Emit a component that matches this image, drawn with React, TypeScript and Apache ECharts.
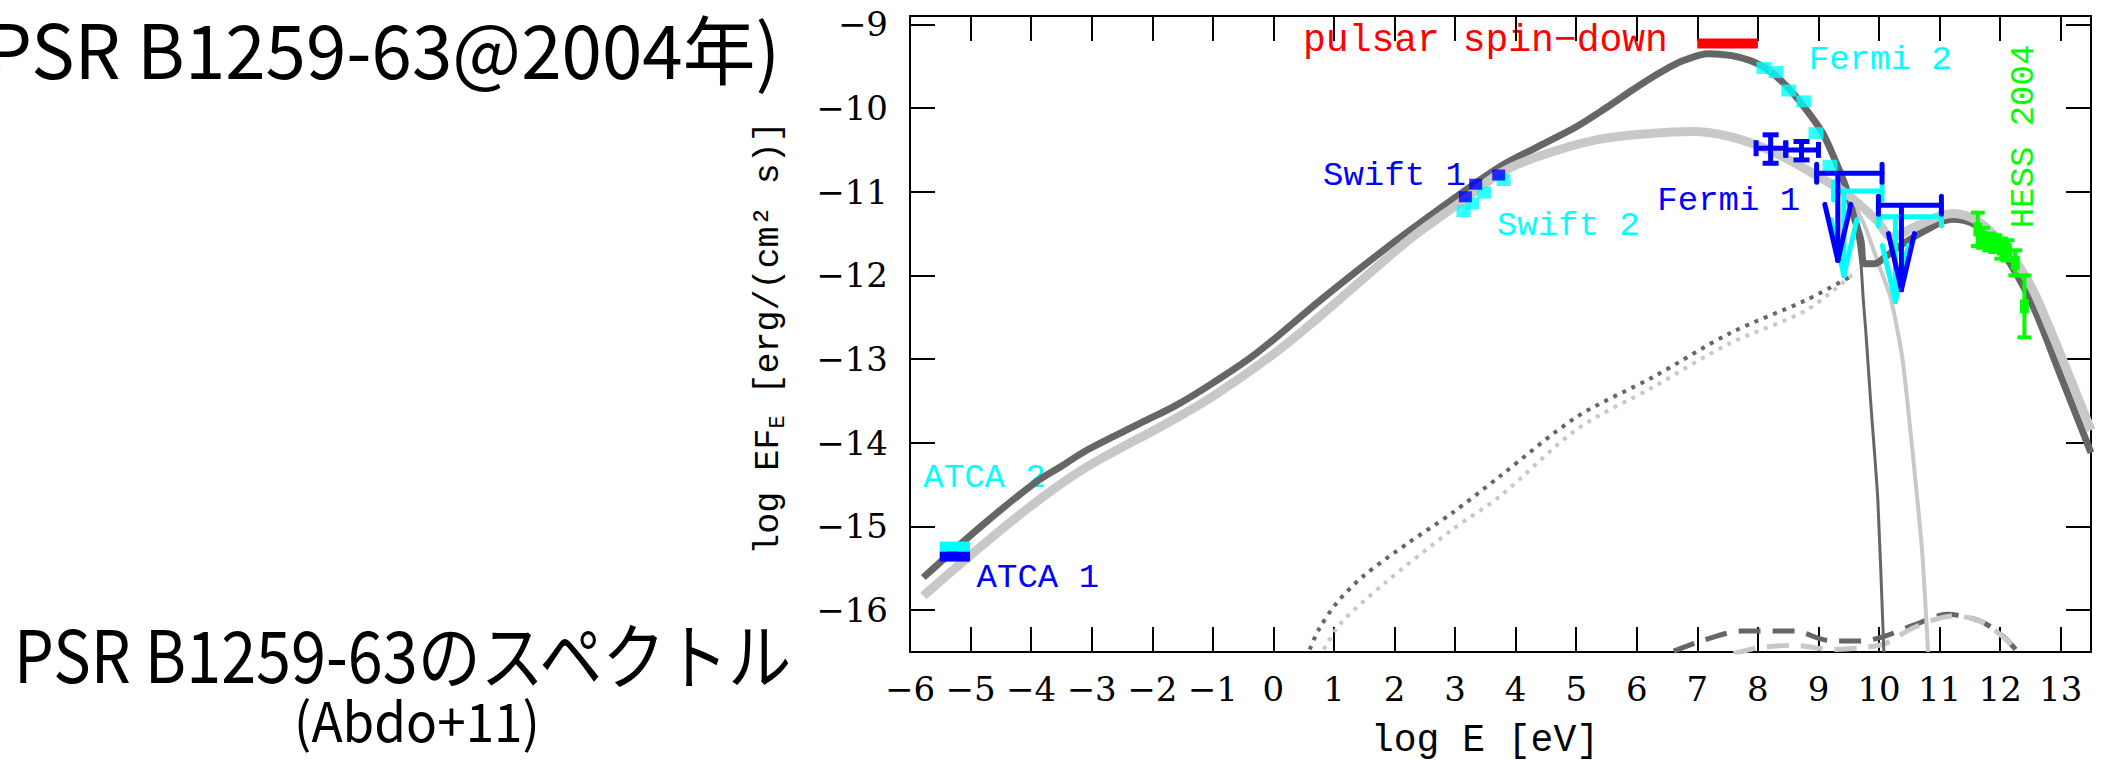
import React, { useEffect, useRef } from "react";
import * as echarts from "echarts";

const W = 2101;
const H = 761;

// ---- axes ----
const xTickValues = [-6, -5, -4, -3, -2, -1, 0, 1, 2, 3, 4, 5, 6, 7, 8, 9, 10, 11, 12, 13];
const yTickValues = [-16, -15, -14, -13, -12, -11, -10, -9];
const xRange = [-6, 13.5];
const yRange = [-16.5, -8.9];

// ---- model curves (log E, log EF_E) ----
const darkTotalX = [-5.78, -4.83, -3.94, -3.5, -3.06, -2.18, -1.6, -1.01, -0.28, 0.82, 1.85, 2.37, 3.1, 3.74, 4.37, 5.01, 5.51, 5.96, 6.4, 6.78, 7.19, 7.54, 7.86, 8.18, 8.49, 8.81, 9.07, 9.25, 9.45, 9.57, 9.7, 9.76, 9.92, 10.1, 10.4, 10.8, 11.2, 11.6, 12.0, 12.5, 13.0, 13.5];
const darkTotalY = [-15.61, -15.0, -14.48, -14.28, -14.08, -13.76, -13.55, -13.29, -12.93, -12.27, -11.68, -11.4, -11.02, -10.7, -10.46, -10.22, -9.99, -9.77, -9.57, -9.43, -9.35, -9.37, -9.43, -9.55, -9.75, -10.03, -10.3, -10.58, -10.94, -11.26, -11.58, -11.86, -11.86, -11.78, -11.62, -11.45, -11.33, -11.4, -11.68, -12.3, -13.2, -14.12];

const lightTotalX = [-5.78, -4.83, -3.94, -3.06, -1.74, -1.01, 0.02, 0.75, 1.93, 2.37, 3.1, 3.74, 4.37, 5.33, 6.28, 6.91, 7.54, 8.18, 8.81, 9.45, 9.96, 10.21, 10.59, 11.22, 11.6, 11.98, 12.45, 12.8, 13.5];
const lightTotalY = [-15.83, -15.24, -14.72, -14.28, -13.76, -13.45, -12.93, -12.5, -11.76, -11.5, -11.12, -10.78, -10.58, -10.38, -10.3, -10.28, -10.34, -10.5, -10.74, -11.02, -11.34, -11.54, -11.42, -11.26, -11.34, -11.58, -12.05, -12.6, -13.85];

const darkSyncX = [9.45, 9.62, 9.7, 9.74, 9.78, 9.86, 9.98, 10.08];
const darkSyncY = [-10.94, -11.45, -11.85, -12.29, -12.65, -13.49, -14.68, -16.5];

const lightSyncX = [9.3, 9.55, 9.76, 10.01, 10.2, 10.39, 10.55, 10.71, 10.81];
const lightSyncY = [-10.94, -11.12, -11.4, -11.9, -12.29, -13.01, -14.08, -15.28, -16.5];

const darkIcX = [0.6, 0.75, 1.05, 1.49, 2.22, 2.95, 3.74, 5.01, 6.28, 7.54, 8.81, 9.51];
const darkIcY = [-16.47, -16.23, -15.91, -15.59, -15.2, -14.84, -14.4, -13.69, -13.21, -12.69, -12.29, -12.02];

const lightIcX = [0.83, 1.12, 1.85, 2.95, 3.74, 5.01, 6.28, 7.54, 8.81, 9.64];
const lightIcY = [-16.47, -16.15, -15.67, -15.04, -14.64, -13.84, -13.33, -12.81, -12.41, -11.94];

const darkDashX = [6.61, 7.1, 7.73, 8.6, 9.14, 9.69, 10.1, 10.57, 11.12, 11.67, 12.06, 12.28];
const darkDashY = [-16.49, -16.36, -16.25, -16.25, -16.36, -16.37, -16.31, -16.18, -16.05, -16.13, -16.32, -16.49];

const lightDashX = [7.6, 8.0, 8.6, 9.2, 9.7, 10.1, 10.57, 11.22, 11.67, 12.1, 12.3];
const lightDashY = [-16.52, -16.45, -16.42, -16.47, -16.45, -16.4, -16.21, -16.07, -16.13, -16.35, -16.52];

// ---- observations ----
const spinDownX = [7.0, 8.0];
const spinDownY = [-9.23, -9.23];

const atcaX = [-5.51, -5.01];
const atca1Y = [-15.36, -15.36];
const atca2Y = [-15.24, -15.24];

const swift1X = [3.17, 3.34, 3.72];
const swift1Y = [-11.06, -10.91, -10.8];
const swift2X = [3.14, 3.28, 3.48, 3.8];
const swift2Y = [-11.23, -11.14, -11.01, -10.86];

const fermi2X = [8.1, 8.3, 8.51, 8.76, 8.96, 9.19];
const fermi2Y = [-9.52, -9.57, -9.79, -9.92, -10.3, -10.69];

const fermi1X = [8.21, 8.72];
const fermi1Y = [-10.48, -10.5];
const fermi1XLo = [7.97, 8.46];
const fermi1XHi = [8.46, 9.0];
const fermi1YLo = [-10.66, -10.62];
const fermi1YHi = [-10.32, -10.4];

const fermi1UlX = [9.32, 10.37];
const fermi1UlY = [-10.78, -11.16];
const fermi1UlXLo = [8.97, 9.99];
const fermi1UlXHi = [10.05, 11.03];
const fermi1UlTip = [-11.82, -12.17];

const fermi2UlX = [9.42, 10.27];
const fermi2UlY = [-10.99, -11.3];
const fermi2UlXLo = [9.25, 9.99];
const fermi2UlXHi = [10.05, 11.03];
const fermi2UlTip = [-12.0, -12.31];

const hessX = [11.63, 11.72, 11.82, 11.92, 12.02, 12.12, 12.25, 12.4];
const hessY = [-11.45, -11.55, -11.6, -11.62, -11.68, -11.7, -11.85, -12.37];
const hessYErr = [0.2, 0.12, 0.1, 0.1, 0.12, 0.12, 0.15, 0.37];
const hessXErr = [0.04, 0.04, 0.04, 0.04, 0.04, 0.04, 0.04, 0.04];

// ---- styles ----
const DARK = "#666666";
const LIGHT = "#c8c8c8";
const BLUE = "#0000ff";
const CYAN = "#00ffff";
const RED = "#ff0000";
const GREEN = "#00ff00";
const MONO = "'Liberation Mono', monospace";
const SERIF = "'DejaVu Serif', serif";
const JP = "'Noto Sans CJK JP', sans-serif";

const pts = (xs: number[], ys: number[]) => xs.map((x, i) => [x, ys[i]]);

const curve = (name: string, xs: number[], ys: number[], color: string, width: number, type: any, smooth: number, z: number) => ({
  type: "line",
  name,
  data: pts(xs, ys),
  symbol: "none",
  showSymbol: false,
  smooth,
  clip: true,
  silent: true,
  z,
  lineStyle: { color, width, type, cap: "butt", join: "round" },
});

const squares = (name: string, xs: number[], ys: number[], color: string, size: number[], z: number) => ({
  type: "scatter",
  name,
  data: pts(xs, ys),
  symbol: "rect",
  symbolSize: size,
  itemStyle: { color },
  silent: true,
  z,
});

const errorBars = (name: string, color: string, rows: number[][], lw: number, cap: number, z: number) => ({
  type: "custom",
  name,
  data: rows,
  z,
  silent: true,
  encode: { x: 0, y: 1 },
  renderItem: (_p: any, api: any) => {
    const x = api.value(0);
    const y = api.value(1);
    const c = api.coord([x, y]);
    const l = api.coord([api.value(2), y]);
    const r = api.coord([api.value(3), y]);
    const b = api.coord([x, api.value(4)]);
    const t = api.coord([x, api.value(5)]);
    const st = { stroke: color, lineWidth: lw };
    const ln = (x1: number, y1: number, x2: number, y2: number) => ({ type: "line", shape: { x1, y1, x2, y2 }, style: st });
    return {
      type: "group",
      children: [
        ln(l[0], c[1], r[0], c[1]),
        ln(c[0], b[1], c[0], t[1]),
        ln(l[0], c[1] - cap, l[0], c[1] + cap),
        ln(r[0], c[1] - cap, r[0], c[1] + cap),
        ln(c[0] - cap, b[1], c[0] + cap, b[1]),
        ln(c[0] - cap, t[1], c[0] + cap, t[1]),
      ],
    };
  },
});

const upperLimits = (name: string, color: string, rows: number[][], lw: number, z: number) => ({
  type: "custom",
  name,
  data: rows,
  z,
  silent: true,
  encode: { x: 0, y: 1 },
  renderItem: (_p: any, api: any) => {
    const x = api.value(0);
    const y = api.value(1);
    const c = api.coord([x, y]);
    const l = api.coord([api.value(2), y]);
    const r = api.coord([api.value(3), y]);
    const tip = api.coord([x, api.value(4)]);
    const st = { stroke: color, lineWidth: lw, lineCap: "round" };
    const ln = (x1: number, y1: number, x2: number, y2: number) => ({ type: "line", shape: { x1, y1, x2, y2 }, style: st });
    const cap = 9;
    return {
      type: "group",
      children: [
        ln(l[0], c[1], r[0], c[1]),
        ln(l[0], c[1] - cap, l[0], c[1] + cap),
        ln(r[0], c[1] - cap, r[0], c[1] + cap),
        ln(c[0], c[1], tip[0], tip[1]),
        ln(tip[0] - 13, tip[1] - 56, tip[0], tip[1]),
        ln(tip[0] + 13, tip[1] - 56, tip[0], tip[1]),
      ],
    };
  },
});

const fmt = (v: number) => (Number.isInteger(v) ? String(v).replace("-", "\u2212") : "");

const axisLine = { show: true, onZero: false, lineStyle: { color: "#000", width: 2 } };
const tickStyle = { color: "#000", width: 2 };

function buildOption() {
  const labelStyle = { color: "#000", fontFamily: SERIF, fontSize: 34 };
  return {
    animation: false,
    backgroundColor: "#ffffff",
    grid: { left: 910, top: 16, width: 1181, height: 636, containLabel: false },
    xAxis: [
      {
        type: "value", position: "bottom", min: xRange[0], max: xRange[1],
        axisLine, splitLine: { show: false },
        axisTick: { show: true, inside: true, length: 25, lineStyle: tickStyle, customValues: xTickValues },
        axisLabel: { show: true, customValues: xTickValues, formatter: fmt, margin: 20, ...labelStyle },
      },
      {
        type: "value", position: "top", min: xRange[0], max: xRange[1],
        axisLine, splitLine: { show: false },
        axisTick: { show: true, inside: true, length: 25, lineStyle: tickStyle, customValues: xTickValues },
        axisLabel: { show: false },
      },
    ],
    yAxis: [
      {
        type: "value", position: "left", min: yRange[0], max: yRange[1],
        axisLine, splitLine: { show: false },
        axisTick: { show: true, inside: true, length: 25, lineStyle: tickStyle, customValues: yTickValues },
        axisLabel: { show: true, customValues: yTickValues, formatter: fmt, margin: 22, ...labelStyle },
      },
      {
        type: "value", position: "right", min: yRange[0], max: yRange[1],
        axisLine, splitLine: { show: false },
        axisTick: { show: true, inside: true, length: 25, lineStyle: tickStyle, customValues: yTickValues },
        axisLabel: { show: false },
      },
    ],
    series: [
      curve("dark dashed", darkDashX, darkDashY, DARK, 5, [22, 12], 0.3, 1),
      curve("light dashed", lightDashX, lightDashY, LIGHT, 5, [22, 12], 0.3, 1),
      curve("dark IC", darkIcX, darkIcY, DARK, 4, [4, 6], 0.3, 1),
      curve("light IC", lightIcX, lightIcY, LIGHT, 4, [4, 6], 0.3, 1),
      curve("dark sync", darkSyncX, darkSyncY, DARK, 3, "solid", 0.2, 2),
      curve("light sync", lightSyncX, lightSyncY, LIGHT, 4, "solid", 0.2, 2),
      curve("dark total", darkTotalX, darkTotalY, DARK, 7, "solid", 0.35, 3),
      curve("light total", lightTotalX, lightTotalY, LIGHT, 9, "solid", 0.35, 4),
      curve("pulsar spin-down", spinDownX, spinDownY, RED, 10, "solid", 0, 6),
      curve("ATCA 2", atcaX, atca2Y, CYAN, 10, "solid", 0, 6),
      curve("ATCA 1", atcaX, atca1Y, BLUE, 10, "solid", 0, 7),
      squares("Swift 2", swift2X, swift2Y, CYAN, [14, 12], 6),
      squares("Swift 1", swift1X, swift1Y, BLUE, [13, 11], 7),
      squares("Fermi 2", fermi2X, fermi2Y, CYAN, [15, 12], 6),
      upperLimits("Fermi 2 UL", CYAN, fermi2UlX.map((x, i) => [x, fermi2UlY[i], fermi2UlXLo[i], fermi2UlXHi[i], fermi2UlTip[i]]), 5, 6),
      upperLimits("Fermi 1 UL", BLUE, fermi1UlX.map((x, i) => [x, fermi1UlY[i], fermi1UlXLo[i], fermi1UlXHi[i], fermi1UlTip[i]]), 5, 7),
      errorBars("Fermi 1", BLUE, fermi1X.map((x, i) => [x, fermi1Y[i], fermi1XLo[i], fermi1XHi[i], fermi1YLo[i], fermi1YHi[i]]), 5, 8, 7),
      errorBars("HESS 2004", GREEN, hessX.map((x, i) => [x, hessY[i], x - hessXErr[i], x + hessXErr[i], hessY[i] - hessYErr[i], hessY[i] + hessYErr[i]]), 4, 7, 7),
    ],
  };
}

// annotation anchors (data coordinates)
const annotations = [
  { text: "pulsar spin\u2212down", at: [0.49, -9.19], color: RED, size: 38 },
  { text: "Swift 1", at: [0.82, -10.81], color: BLUE, size: 34 },
  { text: "Swift 2", at: [3.69, -11.41], color: CYAN, size: 34 },
  { text: "Fermi 1", at: [6.34, -11.11], color: BLUE, size: 34 },
  { text: "Fermi 2", at: [8.84, -9.42], color: CYAN, size: 34 },
  { text: "ATCA 2", at: [-5.78, -14.42], color: CYAN, size: 34 },
  { text: "ATCA 1", at: [-4.9, -15.61], color: BLUE, size: 34 },
];
const hessLabel = { text: "HESS 2004", at: [12.39, -10.34], color: GREEN };

function buildGraphics(P: (x: number, y: number) => number[]) {
  const g: any[] = [];
  for (const a of annotations) {
    const p = P(a.at[0], a.at[1]);
    g.push({
      type: "text", x: p[0], y: p[1], silent: true,
      style: { text: a.text, fill: a.color, font: `${a.size}px ${MONO}`, textAlign: "left", textVerticalAlign: "middle", align: "left", verticalAlign: "middle" },
    });
  }
  const hp = P(hessLabel.at[0], hessLabel.at[1]);
  g.push({
    type: "text", x: hp[0], y: hp[1], rotation: Math.PI / 2, silent: true,
    style: { text: hessLabel.text, fill: hessLabel.color, font: `34px ${MONO}`, textAlign: "center", textVerticalAlign: "middle", align: "center", verticalAlign: "middle" },
  });
  // axis titles
  g.push({
    type: "text", x: 1485, y: 740, silent: true,
    style: { text: "log E [eV]", fill: "#000", font: `38px ${MONO}`, textAlign: "center", textVerticalAlign: "middle", align: "center", verticalAlign: "middle" },
  });
  g.push({
    type: "text", x: 769, y: 338, rotation: Math.PI / 2, silent: true,
    style: {
      text: "{m|log EF}{s|E}{m| [erg/(cm\u00b2 s)]}",
      fill: "#000",
      textAlign: "center", textVerticalAlign: "middle", align: "center", verticalAlign: "middle",
      rich: {
        m: { fontFamily: MONO, fontSize: 35, fill: "#000" },
        s: { fontFamily: MONO, fontSize: 22, fill: "#000", padding: [18, 0, 0, 0] },
      },
    },
  });
  // slide titles
  g.push({
    type: "text", x: -14, y: 46, scaleX: 0.97, silent: true,
    style: { text: "PSR B1259-63@2004\u5e74)", fill: "#000", font: `75px ${JP}`, textAlign: "left", textVerticalAlign: "middle", align: "left", verticalAlign: "middle" },
  });
  g.push({
    type: "text", x: 14, y: 652, scaleX: 0.875, silent: true,
    style: { text: "PSR B1259-63\u306e\u30b9\u30da\u30af\u30c8\u30eb", fill: "#000", font: `72px ${JP}`, textAlign: "left", textVerticalAlign: "middle", align: "left", verticalAlign: "middle" },
  });
  g.push({
    type: "text", x: 417, y: 718, scaleX: 0.95, silent: true,
    style: { text: "(Abdo+11)", fill: "#000", font: `54px ${JP}`, textAlign: "center", textVerticalAlign: "middle", align: "center", verticalAlign: "middle" },
  });
  return g;
}

export default function App() {
  const ref = useRef<HTMLDivElement>(null);
  useEffect(() => {
    document.body.style.margin = "0";
    const el = ref.current;
    if (!el) return;
    const chart = echarts.init(el, null, { renderer: "svg" });
    chart.setOption(buildOption() as any);
    const P = (x: number, y: number) => chart.convertToPixel({ xAxisIndex: 0, yAxisIndex: 0 }, [x, y]) as number[];
    chart.setOption({ graphic: buildGraphics(P) } as any);
    return () => chart.dispose();
  }, []);
  return <div ref={ref} style={{ width: W, height: H, background: "#ffffff" }} />;
}
